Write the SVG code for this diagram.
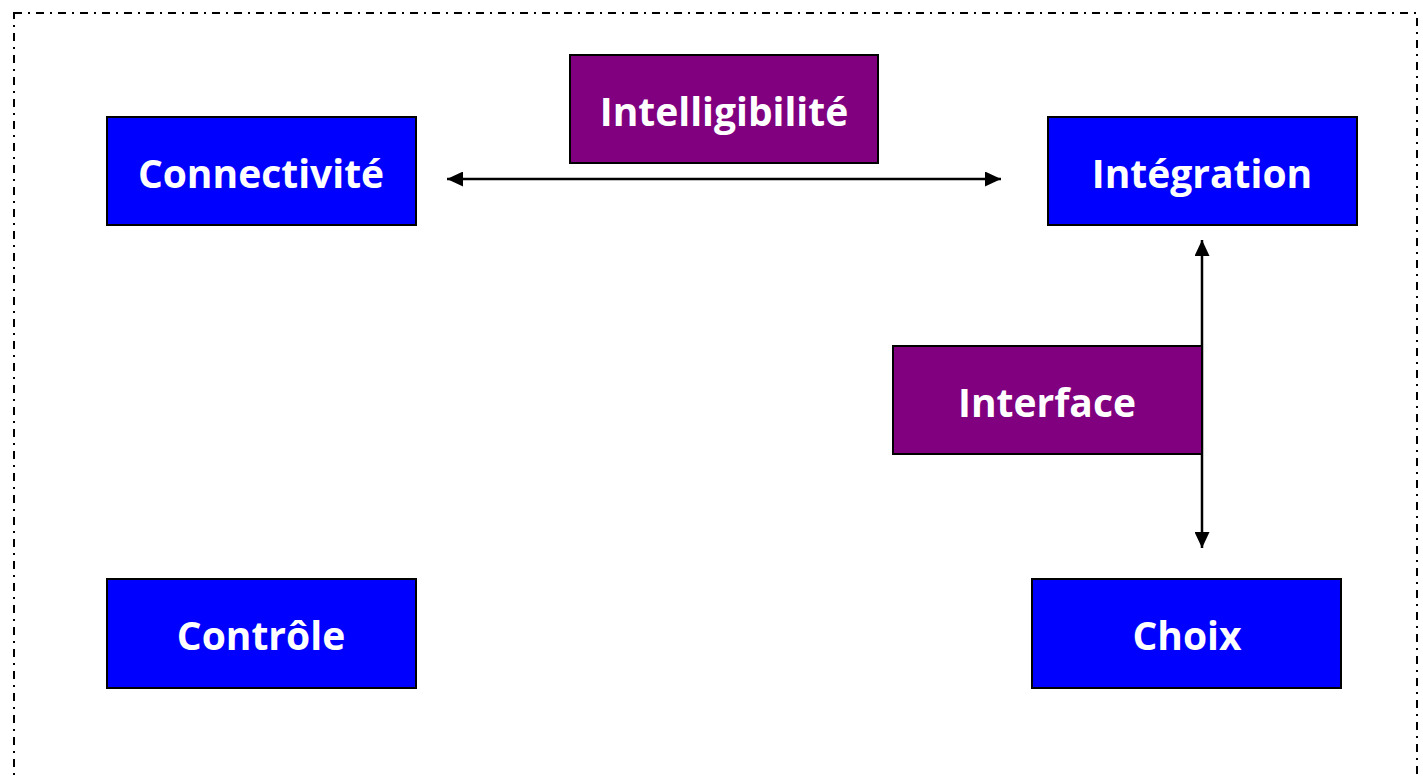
<svg xmlns="http://www.w3.org/2000/svg" width="1423" height="778" viewBox="0 0 1423 778">
<style>
.frame{fill:none;stroke:#000;stroke-width:2;stroke-dasharray:8 6 2 6}
.blue{fill:#0000ff;stroke:#000;stroke-width:2}
.purple{fill:#800080;stroke:#000;stroke-width:2}
.lbl{font-family:"Open Sans","Noto Sans",sans-serif;font-weight:bold;font-size:39px;fill:#fff;text-anchor:middle;dominant-baseline:central}
.conn{stroke:#000;stroke-width:2.5;fill:none}
</style>
<defs>
<marker id="ah" viewBox="0 0 16 15" refX="16" refY="7.5" markerWidth="16" markerHeight="15" markerUnits="userSpaceOnUse" orient="auto-start-reverse">
<path d="M0,0 L16,7.5 L0,15 Z" fill="#000"/>
</marker>
</defs>
<rect class="frame" x="14" y="13" width="1403" height="800"/>
<g id="connectors">
<line class="conn" x1="447" y1="179" x2="1001" y2="179" marker-start="url(#ah)" marker-end="url(#ah)"/>
<line class="conn" x1="1202" y1="240" x2="1202" y2="548" marker-start="url(#ah)" marker-end="url(#ah)"/>
</g>
<g id="intelligibilite">
<rect class="purple" x="570" y="55" width="308" height="108"/>
<text class="lbl" x="724" y="110">Intelligibilité</text>
</g>
<g id="connectivite">
<rect class="blue" x="107" y="117" width="309" height="108"/>
<text class="lbl" x="261" y="172">Connectivité</text>
</g>
<g id="integration">
<rect class="blue" x="1048" y="117" width="309" height="108"/>
<text class="lbl" x="1202" y="172">Intégration</text>
</g>
<g id="interface">
<rect class="purple" x="893" y="346" width="309" height="108"/>
<text class="lbl" x="1047" y="401">Interface</text>
</g>
<g id="controle">
<rect class="blue" x="107" y="579" width="309" height="109"/>
<text class="lbl" x="261" y="634">Contrôle</text>
</g>
<g id="choix">
<rect class="blue" x="1032" y="579" width="309" height="109"/>
<text class="lbl" x="1187" y="634">Choix</text>
</g>
</svg>
